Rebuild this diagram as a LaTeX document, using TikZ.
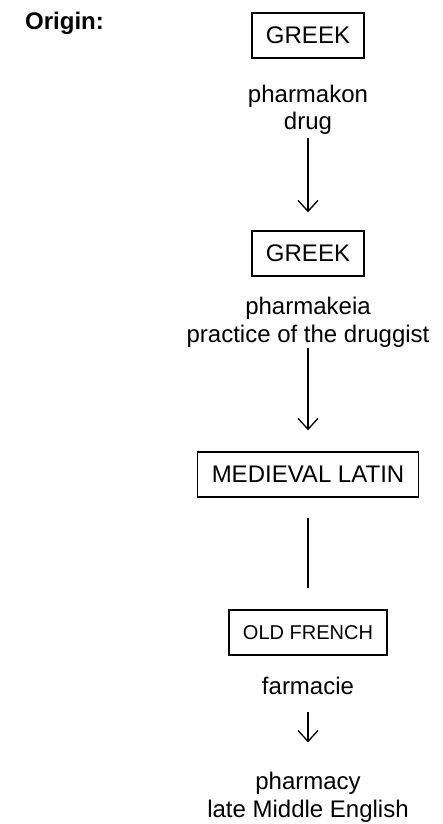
\documentclass[tikz,border=0pt]{standalone}
\usepackage{fontspec}
\setmainfont{Liberation Sans}
\usetikzlibrary{arrows.meta}

\begin{document}
\begin{tikzpicture}[x=1pt,y=-1pt,
    lang/.style={draw, line width=1.4pt, minimum height=45pt, inner xsep=14pt, font=\fontsize{24}{28}\selectfont},
    word/.style={align=center, inner sep=0pt, font=\fontsize{24}{28}\selectfont},
    flow/.style={line width=1.3pt, -{Straight Barb[length=11pt,width=20pt,line width=1.3pt]}}]
  \useasboundingbox (0,0) rectangle (443,824);
  % Titulo
  \node[anchor=base west, inner sep=0pt, font=\fontsize{24}{28}\selectfont\bfseries] (origin) at (25,30) {Origin:};
  % Linguas e palavras
  \node[lang] (greekA) at (308,35.5) {GREEK};
  \node[word, anchor=base] (pharmakon) at (308,130) {pharmakon\\drug};
  \node[lang] (greekB) at (308,253.5) {GREEK};
  \node[word, anchor=base] (pharmakeia) at (308,342) {pharmakeia\\practice of the druggist};
  \node[lang] (latin) at (308,474.5) {MEDIEVAL LATIN};
  \node[lang, font=\fontsize{20}{24}\selectfont] (french) at (308,632.5) {OLD FRENCH};
  \node[word, anchor=base] (farmacie) at (308,694) {farmacie};
  \node[word, anchor=base] (pharmacy) at (308,817) {pharmacy\\late Middle English};
  % Ligacoes
  \draw[flow, shorten <=3pt, shorten >=18pt] (pharmakon) -- (greekB);
  \draw[flow, shorten <=1pt, shorten >=21pt] (pharmakeia) -- (latin);
  \draw[line width=1.3pt, shorten <=20pt, shorten >=21pt] (latin) -- (french);
  \draw[flow, shorten <=18pt, shorten >=29pt] (farmacie) -- (pharmacy);
\end{tikzpicture}
\end{document}
